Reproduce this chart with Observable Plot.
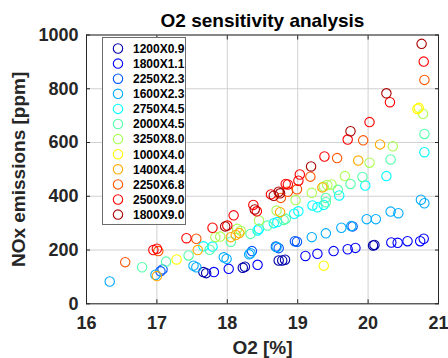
<!DOCTYPE html>
<html>
<head>
<meta charset="utf-8">
<script src="https://cdn.jsdelivr.net/npm/d3@7"></script>
<script src="https://cdn.jsdelivr.net/npm/@observablehq/plot@0.6"></script>
<style>
  html, body { margin: 0; padding: 0; background: #fff; }
  #wrap { position: relative; width: 448px; height: 358px; font-family: "Liberation Sans", Arial, sans-serif; }
  #legend { position: absolute; background: #fff; border: 1.5px solid #6b6b6b; box-sizing: border-box; }
</style>
</head>
<body>
<div id="wrap"></div>
<script>
const seriesNames = ["1200X0.9","1800X1.1","2250X2.3","1600X2.3","2750X4.5","2000X4.5","3250X8.0","1000X4.0","1400X4.4","2250X6.8","2500X9.0","1800X9.0"];
const seriesColors = ["#0000aa","#0000ff","#0055ff","#00aaff","#00ffff","#55ffaa","#aaff55","#ffff00","#ffaa00","#ff5500","#ff0000","#aa0000"];

const o2_1200x09 = [17.66, 17.70, 18.22, 18.25, 18.73, 18.78, 18.82, 20.07, 20.09];
const nox_1200x09 = [118, 114, 134, 138, 161, 161, 164, 217, 219];
const o2_1800x11 = [17.81, 18.02, 18.43, 19.11, 19.28, 19.51, 19.71, 19.82, 20.33, 20.42, 20.56, 20.74, 20.79];
const nox_1800x11 = [118, 130, 145, 178, 186, 196, 203, 208, 228, 227, 233, 233, 242];
const o2_2250x23 = [17.05, 17.08, 18.35, 18.69, 18.73, 18.96, 18.99, 19.78];
const nox_2250x23 = [121, 128, 196, 213, 207, 233, 231, 288];
const o2_1600x23 = [16.33, 16.98, 17.52, 17.56, 17.95, 17.99, 18.31, 18.33, 18.70, 19.20, 19.40, 19.62, 19.76, 19.98, 20.11, 20.32, 20.43, 20.75, 20.80];
const nox_1600x23 = [83, 108, 142, 136, 173, 167, 184, 188, 211, 248, 262, 283, 289, 315, 315, 343, 337, 387, 374];
const o2_2750x45 = [17.66, 17.79, 18.43, 18.45, 18.66, 18.71, 18.95, 19.01, 19.21, 19.28, 19.37, 19.59, 19.96, 20.26, 20.80];
const nox_2750x45 = [214, 213, 273, 279, 300, 304, 335, 344, 366, 359, 368, 403, 440, 475, 564];
const o2_2000x45 = [16.79, 17.13, 17.45, 17.75, 18.05, 18.33, 18.57, 18.80, 18.83, 19.40, 19.40, 19.57, 19.75, 19.92, 20.32, 20.80];
const nox_2000x45 = [136, 157, 180, 201, 231, 260, 291, 312, 316, 394, 378, 424, 446, 472, 537, 632];
const o2_3250x80 = [17.83, 17.90, 18.14, 18.19, 18.45, 18.70, 18.97, 19.20, 19.37, 19.42, 19.48, 19.67, 20.02, 20.35, 20.78];
const nox_3250x80 = [248, 250, 279, 272, 310, 347, 386, 413, 436, 442, 444, 475, 525, 586, 707];
const o2_1000x40 = [17.28, 19.37, 20.70, 20.72];
const nox_1000x40 = [165, 142, 725, 729];
const o2_1400x44 = [17.00, 17.58, 18.05, 18.12, 18.17, 18.75, 19.35, 19.86, 20.17];
const nox_1400x44 = [103, 200, 248, 256, 263, 341, 433, 533, 593];
const o2_2250x68 = [16.55, 17.02, 17.56, 18.76, 18.86, 18.99, 19.18, 19.56, 19.93, 20.80];
const nox_2250x68 = [155, 196, 242, 394, 417, 426, 473, 542, 608, 833];
const o2_2500x90 = [16.95, 17.00, 17.42, 17.79, 18.00, 18.09, 18.37, 18.42, 18.62, 18.83, 18.86, 19.01, 19.03, 19.38, 19.71, 20.02, 20.31, 20.79];
const nox_2500x90 = [200, 205, 244, 283, 291, 329, 368, 344, 407, 446, 444, 458, 481, 548, 611, 676, 750, 901];
const o2_1800x90 = [17.97, 18.39, 18.66, 18.73, 18.75, 19.19, 19.75, 20.26, 20.76];
const nox_1800x90 = [288, 351, 402, 417, 411, 511, 642, 783, 967];

const xTicks = [16, 17, 18, 19, 20, 21];
const yTicks = [0, 200, 400, 600, 800, 1000];
const titleText = "O2 sensitivity analysis";
const xLabel = "O2 [%]";
const yLabel = "NOx emissions [ppm]";

const o2Lists = [o2_1200x09, o2_1800x11, o2_2250x23, o2_1600x23, o2_2750x45, o2_2000x45, o2_3250x80, o2_1000x40, o2_1400x44, o2_2250x68, o2_2500x90, o2_1800x90];
const noxLists = [nox_1200x09, nox_1800x11, nox_2250x23, nox_1600x23, nox_2750x45, nox_2000x45, nox_3250x80, nox_1000x40, nox_1400x44, nox_2250x68, nox_2500x90, nox_1800x90];

const data = [];
seriesNames.forEach((name, i) => {
  o2Lists[i].forEach((x, j) => data.push({series: name, o2: x, nox: noxLists[i][j]}));
});

const font = "'Liberation Sans', Arial, sans-serif";
const chart = Plot.plot({
  width: 448,
  height: 358,
  marginLeft: 86,
  marginRight: 10,
  marginTop: 34.5,
  marginBottom: 54.7,
  style: {fontFamily: font, background: "#fff", color: "#262626"},
  x: {domain: [16, 21], label: null},
  y: {domain: [0, 1000], label: null},
  color: {domain: seriesNames, range: seriesColors},
  marks: [
    Plot.gridX(xTicks, {stroke: "#d0d0d0", strokeOpacity: 1, strokeWidth: 1}),
    Plot.gridY(yTicks, {stroke: "#d0d0d0", strokeOpacity: 1, strokeWidth: 1}),
    Plot.dot(data, {x: "o2", y: "nox", stroke: "series", r: 4.7, strokeWidth: 1.1, fill: "none"}),
    Plot.frame({stroke: "#262626", strokeWidth: 1}),
    Plot.axisX(xTicks, {anchor: "bottom", tickSize: -4, tickPadding: 16, fontSize: 18, fontWeight: "bold", label: null, tickFormat: d => String(d)}),
    Plot.axisX(xTicks, {anchor: "top", tickSize: -4, fill: "none", label: null}),
    Plot.axisY(yTicks, {anchor: "left", tickSize: -4, tickPadding: 12, fontSize: 18, fontWeight: "bold", label: null, tickFormat: d => String(d)}),
    Plot.axisY(yTicks, {anchor: "right", tickSize: -4, fill: "none", label: null}),
    Plot.text([titleText], {frameAnchor: "top", dy: -14, fontSize: 19, fontWeight: "bold", fill: "#000", lineAnchor: "middle", textAnchor: "middle"}),
    Plot.text([xLabel], {frameAnchor: "bottom", dy: 44, fontSize: 19, fontWeight: "bold", fill: "#262626", lineAnchor: "middle", textAnchor: "middle"}),
    Plot.text([yLabel], {frameAnchor: "left", dx: -68, rotate: -90, fontSize: 19, fontWeight: "bold", fill: "#262626", lineAnchor: "middle", textAnchor: "middle"})
  ]
});
const wrap = document.getElementById("wrap");
wrap.appendChild(chart);

// Legend overlay
const legend = d3.select(wrap).append("div").attr("id", "legend")
  .style("left", "102px").style("top", "37px").style("width", "84px").style("height", "188px");
const lsvg = legend.append("svg").attr("width", 82).attr("height", 185).style("display", "block");
seriesNames.forEach((name, i) => {
  const cy = 10.5 + i * 15.1;
  lsvg.append("circle").attr("cx", 15).attr("cy", cy).attr("r", 4.7)
    .attr("fill", "none").attr("stroke", seriesColors[i]).attr("stroke-width", 1.1);
  lsvg.append("text").attr("x", 30).attr("y", cy).attr("dy", "0.36em")
    .attr("font-family", font).attr("font-size", 12).attr("font-weight", "bold")
    .attr("fill", "#000").text(name);
});
</script>
</body>
</html>
